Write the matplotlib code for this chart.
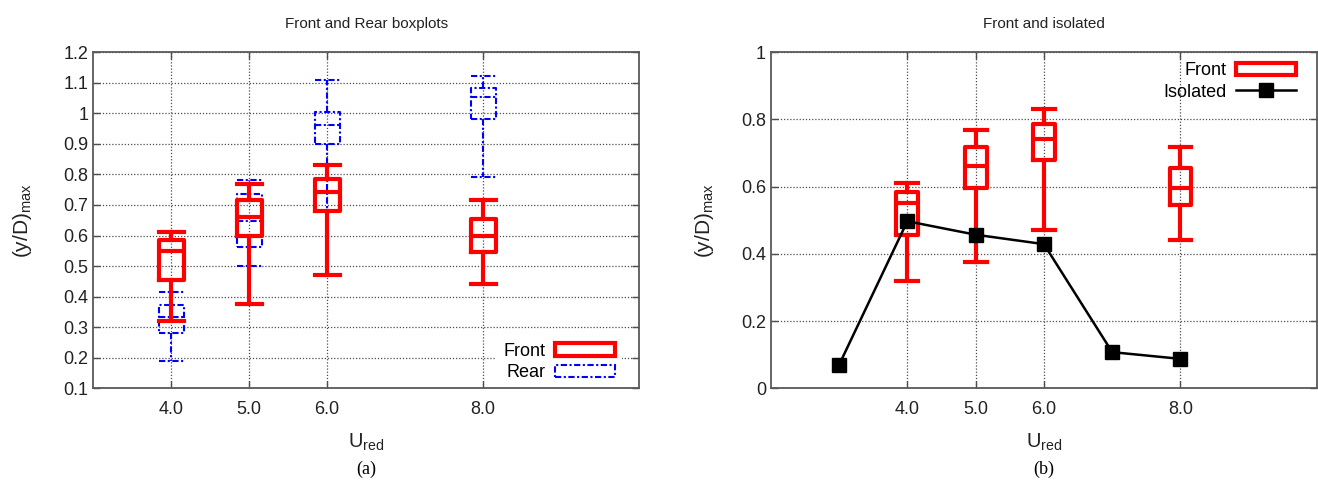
import matplotlib
matplotlib.use('Agg')
import matplotlib.pyplot as plt
from matplotlib.patches import Patch
from matplotlib.lines import Line2D

plt.rcParams['font.family'] = ['Liberation Sans', 'DejaVu Sans']
plt.rcParams['mathtext.fontset'] = 'custom'
plt.rcParams['mathtext.rm'] = 'Liberation Sans'

# reduced velocities with boxplots
u_red = [4.0, 5.0, 6.0, 8.0]
tick_labels = ['4.0', '5.0', '6.0', '8.0']

# front cylinder (y/D)max : lower whisker, q1, median, q3, upper whisker
front_lo = [0.32, 0.375, 0.47, 0.44]
front_q1 = [0.455, 0.597, 0.679, 0.546]
front_med = [0.55, 0.66, 0.742, 0.597]
front_q3 = [0.584, 0.717, 0.786, 0.655]
front_hi = [0.611, 0.769, 0.832, 0.717]

# rear cylinder (y/D)max
rear_lo = [0.191, 0.502, 0.68, 0.79]
rear_q1 = [0.28, 0.561, 0.899, 0.982]
rear_med = [0.335, 0.649, 0.963, 1.052]
rear_q3 = [0.372, 0.737, 1.003, 1.083]
rear_hi = [0.415, 0.78, 1.107, 1.123]

# isolated cylinder
iso_u = [3.0, 4.0, 5.0, 6.0, 7.0, 8.0]
iso_y = [0.07, 0.497, 0.457, 0.429, 0.108, 0.088]

left_yticks = [0.1, 0.2, 0.3, 0.4, 0.5, 0.6, 0.7, 0.8, 0.9, 1.0, 1.1, 1.2]
left_ylabels = ['0.1', '0.2', '0.3', '0.4', '0.5', '0.6', '0.7', '0.8', '0.9', '1', '1.1', '1.2']
right_yticks = [0, 0.2, 0.4, 0.6, 0.8, 1.0]
right_ylabels = ['0', '0.2', '0.4', '0.6', '0.8', '1']

rear_ls = (0, (3, 1.2, 1, 1.2))


def make_stats(lo, q1, med, q3, hi):
    stats = []
    for i in range(len(lo)):
        stats.append({'whislo': lo[i], 'q1': q1[i], 'med': med[i],
                      'q3': q3[i], 'whishi': hi[i], 'fliers': []})
    return stats


def draw_boxes(ax, stats, color, lw, ls, z):
    props = dict(color=color, linewidth=lw, linestyle=ls)
    ax.bxp(stats, positions=u_red, widths=0.32, capwidths=0.32,
           showfliers=False, manage_ticks=False,
           boxprops=props, whiskerprops=props, capprops=props,
           medianprops=props, zorder=z)


def style_axes(ax, title, ypad):
    ax.grid(True, color='0.3', linestyle=(0, (1, 1.5)), linewidth=0.9)
    ax.set_axisbelow(True)
    ax.tick_params(direction='in', top=True, right=True, length=5,
                   width=1, colors='0.3', labelcolor='#222222', labelsize=13)
    ax.tick_params(axis='x', pad=9)
    for s in ax.spines.values():
        s.set_color('0.35')
        s.set_linewidth(1.3)
    ax.set_xticks(u_red)
    ax.set_xticklabels(tick_labels)
    ax.set_title(title, fontsize=11, pad=17, color='#222222')
    ax.set_xlabel(r'U$_\mathregular{red}$', fontsize=14.5, labelpad=10, color='#222222')
    ax.set_ylabel(r'(y/D)$_\mathregular{max}$', fontsize=15, labelpad=ypad, color='#222222')


fig = plt.figure(figsize=(13.18, 4.87), dpi=100)
ax1 = fig.add_axes([0.0706, 0.2023, 0.4143, 0.6909])
ax2 = fig.add_axes([0.5848, 0.2023, 0.4145, 0.6909])

# (a) front and rear boxplots
draw_boxes(ax1, make_stats(rear_lo, rear_q1, rear_med, rear_q3, rear_hi),
           'blue', 1.5, rear_ls, 3)
draw_boxes(ax1, make_stats(front_lo, front_q1, front_med, front_q3, front_hi),
           'red', 3, '-', 4)
ax1.set_xlim(3, 10)
ax1.set_ylim(0.1, 1.2)
ax1.set_yticks(left_yticks)
ax1.set_yticklabels(left_ylabels)
style_axes(ax1, 'Front and Rear boxplots', 21)
h1 = [Patch(facecolor='white', edgecolor='red', linewidth=3),
      Patch(facecolor='white', edgecolor='blue', linewidth=1.5, linestyle=rear_ls)]
leg1 = ax1.legend(h1, ['Front', 'Rear'], loc='lower right', bbox_to_anchor=(0.969, 0.0),
                  markerfirst=False, fontsize=13, frameon=True, fancybox=False,
                  edgecolor='none', framealpha=1, handlelength=3.3, handleheight=0.7,
                  labelspacing=0.25, borderaxespad=0, handletextpad=0.55)
leg1.set_zorder(2)

# (b) front and isolated
draw_boxes(ax2, make_stats(front_lo, front_q1, front_med, front_q3, front_hi),
           'red', 3, '-', 3)
ax2.plot(iso_u, iso_y, color='black', linewidth=1.8, marker='s', markersize=10, zorder=5)
ax2.set_xlim(2, 10)
ax2.set_ylim(0, 1)
ax2.set_yticks(right_yticks)
ax2.set_yticklabels(right_ylabels)
style_axes(ax2, 'Front and isolated', 18)
h2 = [Patch(facecolor='white', edgecolor='red', linewidth=3),
      Line2D([], [], color='black', linewidth=1.8, marker='s', markersize=10)]
leg2 = ax2.legend(h2, ['Front', 'Isolated'], loc='upper right', bbox_to_anchor=(0.974, 0.991),
                  markerfirst=False, fontsize=13, frameon=False, handlelength=3.3,
                  handleheight=0.7, labelspacing=0.25, borderaxespad=0, handletextpad=0.55)

fig.text(0.2778, 0.027, '(a)', family='Liberation Serif', fontsize=13, ha='center')
fig.text(0.7921, 0.027, '(b)', family='Liberation Serif', fontsize=13, ha='center')

fig.savefig('out.png', dpi=100)
